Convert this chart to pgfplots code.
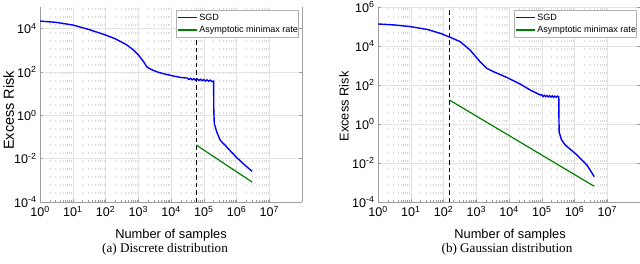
\documentclass[border=0pt]{standalone}
\usepackage{pgfplots}
\pgfplotsset{compat=1.18}
\usepackage{fontspec}
\setmainfont{Liberation Sans}
\newfontfamily\timesfont{Liberation Serif}
\definecolor{mgreen}{rgb}{0,0.5,0}
\definecolor{mblue}{rgb}{0,0,1}
\newcommand{\lgtext}[1]{\makebox[96bp][l]{#1}}
\pgfplotsset{
  myax/.style={
    scale only axis, width=262bp, height=195bp, anchor=south west,
    xmin=1, xmax=1e8, ymin=1e-4,
    axis x line*=bottom, axis y line*=box,
    axis line style={-, gray!75, line width=0.5bp},
    xtick={1,10,100,1000,10000,100000,1000000,10000000},
    xticklabels={10\textsuperscript{0},10\textsuperscript{1},10\textsuperscript{2},10\textsuperscript{3},10\textsuperscript{4},10\textsuperscript{5},10\textsuperscript{6},10\textsuperscript{7}},
    tick align=inside, major tick length=3bp, minor tick length=1.8bp,
    tick style={gray!75, line width=0.4bp},
    xmajorgrids, ymajorgrids, xminorgrids,
    major grid style={gray!22, line width=0.4bp},
    minor grid style={gray!28, line width=0.4bp, dash pattern=on 2.5bp off 5.5bp},
    tick label style={font=\fontsize{12.6}{14}\selectfont},
    xticklabel style={yshift=-1bp},
    label style={font=\fontsize{12.9}{15}\selectfont},
    xlabel={Number of samples},
    ylabel={Excess Risk},
    xlabel style={at={(axis description cs:0.5,-0.168)}, anchor=center},
    legend style={at={(1,1)}, anchor=north east, xshift=-4bp, yshift=-3bp,
      draw=gray!60, fill=white,
      font=\fontsize{9.1}{10}\selectfont, inner xsep=0.5bp, inner ysep=1.5bp,
      row sep=0.5bp},
    legend image code/.code={\draw[##1] (0bp,0bp) -- (19bp,0bp);},
  },
}
\begin{document}
\begin{tikzpicture}
\useasboundingbox (0,0) rectangle (640bp,-264bp);
\clip (0,0) rectangle (640bp,-264bp);

% ---------------- (a) Discrete ----------------
\begin{loglogaxis}[myax, at={(40bp,-202bp)}, ymax=1e5,
  ytick={1e-4,1e-2,1,1e2,1e4},
  yticklabels={10\textsuperscript{-4},10\textsuperscript{-2},10\textsuperscript{0},10\textsuperscript{2},10\textsuperscript{4}},
  ylabel style={at={(axis description cs:-0.120,0.47)}, anchor=center, font=\fontsize{14.6}{16}\selectfont},
]
\addplot[black, line width=1.1bp, dash pattern=on 4.5bp off 3bp, forget plot] coordinates {(5.9e4,1e-4) (5.9e4,1e5)};
\addplot[color=mblue, draw=mblue, line width=1.4bp] coordinates {
(1,2.24e4) (3.16,1.95e4) (10,1.48e4) (31.6,9.1e3) (100,5.1e3) (200,3.4e3)
(447,1.78e3) (708,1.05e3) (1023,6.0e2) (1413,3.2e2) (1820,1.74e2) (2512,1.3e2)
(3715,1.02e2) (6310,81) (12000,65) (20000,56)
(31623,52.5) (35481,45.0) (39811,50.8) (44668,43.6) (50119,49.3) (56234,42.3)
(63096,47.8) (70795,40.9) (79433,46.2) (89125,39.6) (100000,44.8) (112202,38.4)
(125893,43.4) (141254,37.2) (158489,42.1) (177828,36.1) (199526,38.0)
(2.03e5,1.5) (2.1e5,0.4) (2.24e5,0.3) (2.5e5,0.17) (3.16e5,0.072) (4.0e5,0.05)
(6.3e5,0.024) (1e6,0.0115) (1.58e6,6.0e-3) (3.0e6,2.6e-3)
};
\addlegendentry{\lgtext{SGD}}
\addplot[color=mgreen, draw=mgreen, line width=1.2bp] coordinates {(5.9e4,0.0427) (3.0e6,8.3e-4)};
\addlegendentry{\lgtext{Asymptotic minimax rate}}
\end{loglogaxis}

% ---------------- (b) Gaussian ----------------
\begin{loglogaxis}[myax, at={(378bp,-202bp)}, ymax=1e6,
  ytick={1e-4,1e-2,1,1e2,1e4,1e6},
  yticklabels={10\textsuperscript{-4},10\textsuperscript{-2},10\textsuperscript{0},10\textsuperscript{2},10\textsuperscript{4},10\textsuperscript{6}},
  ylabel style={at={(axis description cs:-0.130,0.49)}, anchor=center},
  xlabel style={at={(axis description cs:0.504,-0.168)}},
]
\addplot[black, line width=1.1bp, dash pattern=on 4.5bp off 3bp, forget plot] coordinates {(151,1e-4) (151,1e6)};
\addplot[color=mblue, draw=mblue, line width=1.4bp] coordinates {
(1,1.35e5) (3.16,1.2e5) (10,9.8e4) (31.6,7.1e4) (79.4,4.47e4) (158,2.82e4)
(324,1.66e4) (646,6.2e3) (1318,1.55e3) (2089,7.2e2) (3388,4.8e2) (8511,2.45e2)
(21900,112) (44700,55) (89000,31)
(1.0e5,31.6) (1.096e5,25.7) (1.202e5,29.5) (1.318e5,25.1) (1.445e5,28.8)
(1.585e5,24.5) (1.738e5,28.2) (1.905e5,24.0) (2.089e5,27.5) (2.291e5,23.4)
(2.512e5,26.9) (2.754e5,23.4) (3.02e5,26.9) (3.311e5,25.1)
(3.35e5,2.0) (3.4e5,0.4) (3.55e5,0.3) (3.98e5,0.16) (5.0e5,0.09) (6.0e5,0.068)
(1.05e6,0.031) (2.4e6,7.9e-3) (4.0e6,2.0e-3)
};
\addlegendentry{\lgtext{SGD}}
\addplot[color=mgreen, draw=mgreen, line width=1.2bp] coordinates {(151,17) (4.0e6,6.4e-4)};
\addlegendentry{\lgtext{Asymptotic minimax rate}}
\end{loglogaxis}

\node[font=\timesfont\fontsize{13.2}{15}\selectfont] at (165bp,-249bp) {(a) Discrete distribution};
\node[font=\timesfont\fontsize{13.2}{15}\selectfont] at (507bp,-249bp) {(b) Gaussian distribution};
\end{tikzpicture}
\end{document}
